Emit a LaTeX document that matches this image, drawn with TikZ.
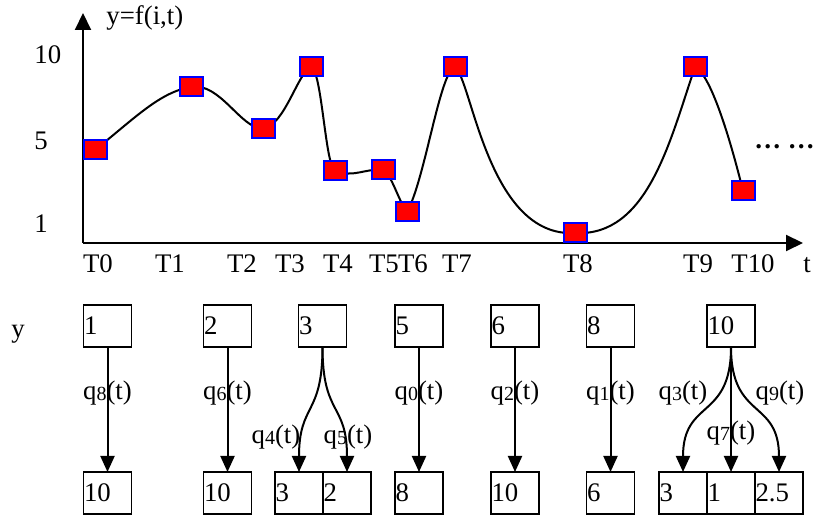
\documentclass[tikz,border=0pt]{standalone}
\usepackage{fontspec}
\setmainfont{Liberation Serif}
\usetikzlibrary{arrows.meta,positioning}

\newcommand{\qlab}[1]{q\raisebox{-0.6pt}{\fontsize{10}{10}\selectfont #1}(t)}

\tikzset{
  axis/.style={line width=1pt,-{Triangle[width=8pt,length=8.5pt]}},
  signal/.style={line width=1pt},
  sample/.style={draw=blue,fill=red,line width=1pt,minimum width=11.5pt,minimum height=9.5pt,inner sep=0pt},
  cell/.style={draw,line width=0.8pt,outer sep=0pt,minimum height=21pt,text width=23.5pt,inner xsep=0.25pt,inner ysep=0pt,align=left},
  flow/.style={line width=1pt,-{Triangle[width=7pt,length=8pt]}},
  lab/.style={inner sep=0pt},
}

\begin{document}
\begin{tikzpicture}[x=0.5pt,y=-0.5pt,font=\fontsize{13.4}{16}\selectfont]
    \useasboundingbox (0,0) rectangle (813,517);
    % axes
    \coordinate (O) at (83,243);
    \coordinate (ytip) at (83,13);
    \coordinate (ttip) at (803,243);
    \draw[axis] (O) -- (ytip);
    \draw[axis] (O) -- (ttip);
    \node[anchor=base west,inner sep=0pt] (ylab) at (106,25) {y=f(i,t)};
    \node[anchor=base west,inner sep=0pt] (tlab) at (803,273) {t};
    \foreach \v/\y in {10/64,5/150,1/233}
        \node[anchor=base west,inner sep=0pt] (v\v) at (34,\y) {\v};
    \foreach \i/\x in {0/98,1/170,2/242,3/290,4/338,5/384,6/413,7/457,8/578,9/698,10/753}
        \node[anchor=base,inner sep=0pt] (T\i) at (\x,273) {T\i};
    % samples and curve
    \foreach \i/\x/\y in {0/95/150,1/191/87,2/263/129,3/311/67,4/335/171,5/383/170,
                          6/407/212,7/455/67,8/575/233,9/695/67,10/743/191}
        \coordinate (p\i) at (\x,\y);
    \draw[signal] (p0) .. controls (135,118) and (160,92) .. (p1)
                       .. controls (220,82) and (240,128) .. (p2)
                       .. controls (285,125) and (298,72) .. (p3)
                       .. controls (322,70) and (325,165) .. (p4)
                       .. controls (355,178) and (365,168) .. (p5)
                       .. controls (392,175) and (398,200) .. (p6)
                       .. controls (425,180) and (440,70) .. (p7)
                       .. controls (472,80) and (488,238) .. (p8)
                       .. controls (648,237) and (670,140) .. (p9)
                       .. controls (712,75) and (733,150) .. (p10);
    \foreach \i in {0,...,10}
        \node[sample] (s\i) at (p\i) {};
    \node[anchor=base west,inner sep=0pt,font=\fontsize{13.4}{16}\selectfont\bfseries] (more) at (754,149) {… …};

    % value cells
    \node[anchor=base west,inner sep=0pt] (yrow) at (11,338) {y};
    \node[cell] (src1) at (107.5,326) {1};
    \node[cell] (src2) at (227.5,326) {2};
    \node[cell] (src3) at (322.5,326) {3};
    \node[cell] (src5) at (419,326) {5};
    \node[cell] (src6) at (515,326) {6};
    \node[cell] (src8) at (610.5,326) {8};
    \node[cell] (src10) at (731,326) {10};

    \node[cell] (dst1) at (107.5,493) {10};
    \node[cell] (dst2) at (227.5,493) {10};
    \node[cell] (dst3a) at (299,493) {3};
    \node[cell,right=0pt of dst3a] (dst3b) {2};
    \node[cell] (dst5) at (419,493) {8};
    \node[cell] (dst6) at (515,493) {10};
    \node[cell] (dst8) at (610.5,493) {6};
    \node[cell] (dst10a) at (683,493) {3};
    \node[cell,right=0pt of dst10a] (dst10b) {1};
    \node[cell,right=0pt of dst10b] (dst10c) {2.5};

    % transitions
    \draw[flow] (src1) -- (dst1) node[lab,pos=0.37] (q8) {\qlab{8}};
    \draw[flow] (src2) -- (dst2) node[lab,pos=0.37] (q6) {\qlab{6}};
    \draw[flow] (src5) -- (dst5) node[lab,pos=0.37] (q0) {\qlab{0}};
    \draw[flow] (src6) -- (dst6) node[lab,pos=0.37] (q2) {\qlab{2}};
    \draw[flow] (src8) -- (dst8) node[lab,pos=0.37] (q1) {\qlab{1}};
    \draw[flow] (src3.south) to[out=-90,in=90,looseness=1.4] (dst3a.north);
    \draw[flow] (src3.south) to[out=-90,in=90,looseness=1.4] (dst3b.north);
    \node[lab] (q4) at (276,437) {\qlab{4}};
    \node[lab] (q5) at (348,437) {\qlab{5}};
    \draw[flow] (src10.south) to[out=-90,in=90,looseness=1.4] (dst10a.north);
    \draw[flow] (src10) -- (dst10b) node[lab,pos=0.69] (q7) {\qlab{7}};
    \draw[flow] (src10.south) to[out=-90,in=90,looseness=1.4] (dst10c.north);
    \node[lab] (q3) at (683,393) {\qlab{3}};
    \node[lab] (q9) at (780,393) {\qlab{9}};
\end{tikzpicture}
\end{document}
